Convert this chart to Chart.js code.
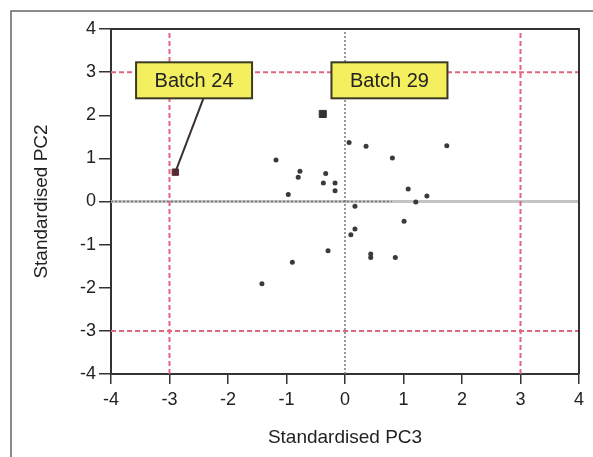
<!DOCTYPE html>
<html>
<head>
<meta charset="utf-8">
<script src="https://cdn.jsdelivr.net/npm/chart.js@4"></script>
<style>
  html, body { margin: 0; padding: 0; background: #fff; }
  canvas { display: block; }
</style>
</head>
<body>
<canvas id="pcChart" width="593" height="457"></canvas>
<script>
// Standardised PC scores for each batch
const pc3 = [-1.18, -0.77, -0.80, -0.33, -0.37, -0.17, -0.17, -0.97, 0.07, 0.36, 0.81, 1.74, 1.08, 1.40, 1.21, 0.17, 1.01, 0.17, 0.10, -0.29, 0.44, 0.44, 0.86, -0.90, -1.42];
const pc2 = [0.96, 0.70, 0.56, 0.65, 0.43, 0.43, 0.25, 0.16, 1.37, 1.28, 1.01, 1.29, 0.29, 0.13, -0.01, -0.11, -0.46, -0.64, -0.77, -1.14, -1.22, -1.30, -1.30, -1.41, -1.91];

// Flagged batches
const batch24 = [-2.90, 0.68];
const batch29 = [-0.38, 2.03];

// Control limits (+/- 3) and axis range
const limits = [-3, 3];
const axisRange = [-4, 4];
const tickStep = 1;

const points = pc3.map((x, i) => ({ x: x, y: pc2[i] }));

function vline(x) {
    return [{ x: x, y: axisRange[0] }, { x: x, y: axisRange[1] }];
}
function hline(y, x0, x1) {
    return [{ x: x0 === undefined ? axisRange[0] : x0, y: y }, { x: x1 === undefined ? axisRange[1] : x1, y: y }];
}

const refStyle = {
    showLine: true,
    pointRadius: 0,
    borderColor: '#e3647c',
    borderWidth: 2,
    borderDash: [5, 3],
    fill: false
};

// Yellow callout boxes plus the leader line to batch 24
const callouts = {
    id: 'callouts',
    afterDatasetsDraw(chart) {
        const ctx = chart.ctx;
        const xs = chart.scales.x, ys = chart.scales.y;
        const boxes = [
            { text: 'Batch 24', cx: -2.58, cy: 2.81, target: batch24, from: -2.42 },
            { text: 'Batch 29', cx: 0.76, cy: 2.81 }
        ];
        const w = 116, h = 36;
        ctx.save();
        boxes.forEach(b => {
            const px = xs.getPixelForValue(b.cx);
            const py = ys.getPixelForValue(b.cy);
            if (b.target) {
                ctx.strokeStyle = '#3a3030';
                ctx.lineWidth = 2;
                ctx.beginPath();
                ctx.moveTo(xs.getPixelForValue(b.from), py + h / 2);
                ctx.lineTo(xs.getPixelForValue(b.target[0]), ys.getPixelForValue(b.target[1]));
                ctx.stroke();
            }
            ctx.fillStyle = '#f4ef5e';
            ctx.fillRect(px - w / 2, py - h / 2, w, h);
            ctx.strokeStyle = '#3b3a22';
            ctx.lineWidth = 2;
            ctx.strokeRect(px - w / 2, py - h / 2, w, h);
            ctx.fillStyle = '#222';
            ctx.font = '20px "Liberation Sans", Arial, sans-serif';
            ctx.textAlign = 'center';
            ctx.textBaseline = 'middle';
            ctx.fillText(b.text, px, py + 1);
        });
        ctx.restore();
    }
};

// Outer figure frame and the top/right edges of the plot box
const frame = {
    id: 'frame',
    beforeDraw(chart) {
        const ctx = chart.ctx;
        ctx.save();
        ctx.fillStyle = '#fff';
        ctx.fillRect(0, 0, chart.width, chart.height);
        ctx.strokeStyle = '#666';
        ctx.lineWidth = 1.5;
        ctx.beginPath();
        ctx.moveTo(11, chart.height);
        ctx.lineTo(11, 11);
        ctx.lineTo(chart.width, 11);
        ctx.stroke();
        ctx.restore();
    },
    afterDraw(chart) {
        const a = chart.chartArea;
        const ctx = chart.ctx;
        ctx.save();
        ctx.strokeStyle = '#333';
        ctx.lineWidth = 2;
        ctx.beginPath();
        ctx.moveTo(a.left, a.top);
        ctx.lineTo(a.right, a.top);
        ctx.lineTo(a.right, a.bottom);
        ctx.stroke();
        ctx.restore();
    }
};

const ctx = document.getElementById('pcChart').getContext('2d');
const pcChart = new Chart(ctx, {
    type: 'scatter',
    data: {
        datasets: [
            {
                label: 'Batch 24',
                data: [{ x: batch24[0], y: batch24[1] }],
                pointStyle: 'rect',
                pointRadius: 4.5,
                backgroundColor: '#5b2a36',
                borderColor: '#5b2a36'
            },
            {
                label: 'Batch 29',
                data: [{ x: batch29[0], y: batch29[1] }],
                pointStyle: 'rect',
                pointRadius: 5,
                backgroundColor: '#333',
                borderColor: '#333'
            },
            {
                label: 'Batches',
                data: points,
                pointRadius: 2.5,
                backgroundColor: '#3a3a3a',
                borderColor: '#3a3a3a',
                borderWidth: 0
            },
            Object.assign({ data: vline(limits[0]) }, refStyle),
            Object.assign({ data: vline(limits[1]) }, refStyle),
            Object.assign({ data: hline(limits[0]) }, refStyle),
            Object.assign({ data: hline(limits[1]) }, refStyle),
            {
                data: vline(0),
                showLine: true, pointRadius: 0,
                borderColor: '#777', borderWidth: 1.5, borderDash: [2, 2]
            },
            {
                data: hline(0, axisRange[0], 0.8),
                showLine: true, pointRadius: 0,
                borderColor: '#777', borderWidth: 1.5, borderDash: [2, 2]
            },
            {
                data: hline(0),
                showLine: true, pointRadius: 0,
                borderColor: '#c4c4c4', borderWidth: 3
            }
        ]
    },
    options: {
        responsive: false,
        animation: false,
        events: [],
        layout: { padding: { top: 29, right: 14, bottom: 0, left: 0 } },
        plugins: {
            legend: { display: false },
            tooltip: { enabled: false }
        },
        scales: {
            x: {
                type: 'linear',
                min: axisRange[0],
                max: axisRange[1],
                afterFit(scale) { scale.height = 83; },
                border: { display: true, color: '#333', width: 2 },
                grid: { drawOnChartArea: false, drawTicks: true, tickLength: 10, color: '#333', lineWidth: 1.5 },
                ticks: {
                    stepSize: tickStep,
                    padding: 5,
                    color: '#222',
                    font: { family: '"Liberation Sans", Arial, sans-serif', size: 18 }
                },
                title: {
                    display: true,
                    text: 'Standardised PC3',
                    color: '#222',
                    padding: { top: 0, bottom: 8 },
                    font: { family: '"Liberation Sans", Arial, sans-serif', size: 19 }
                }
            },
            y: {
                type: 'linear',
                min: axisRange[0],
                max: axisRange[1],
                afterFit(scale) { scale.width = 111; },
                border: { display: true, color: '#333', width: 2 },
                grid: { drawOnChartArea: false, drawTicks: true, tickLength: 12, color: '#333', lineWidth: 1.5 },
                ticks: {
                    stepSize: tickStep,
                    padding: 3,
                    color: '#222',
                    font: { family: '"Liberation Sans", Arial, sans-serif', size: 18 }
                },
                title: {
                    display: true,
                    text: 'Standardised PC2',
                    color: '#222',
                    padding: { top: 30, bottom: 0 },
                    font: { family: '"Liberation Sans", Arial, sans-serif', size: 19 }
                }
            }
        }
    },
    plugins: [frame, callouts]
});
</script>
</body>
</html>
